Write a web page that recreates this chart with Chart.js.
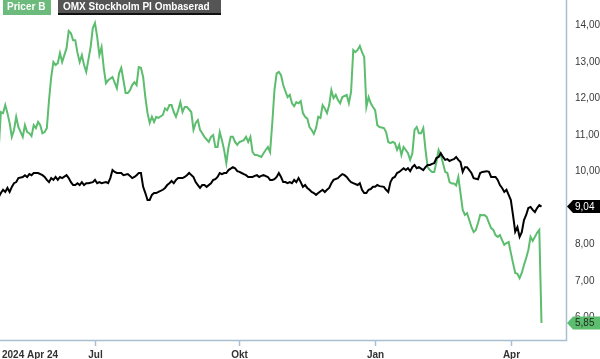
<!DOCTYPE html>
<html>
<head>
<meta charset="utf-8">
<script src="https://cdn.jsdelivr.net/npm/chart.js@4/dist/chart.umd.min.js"></script>
<style>
  html, body { margin: 0; padding: 0; background: #fff; }
  canvas { display: block; }
</style>
</head>
<body>
<canvas id="chart" width="600" height="359"></canvas>
<script>
// trading-day index (0 = 2024-04-24)
const pricerDays = [0,1,2,3,4,5,6,7,8,9,11,12,13,14,15,16,17,18,19,20,21,22,23,24,25,26,27,28,29,30,31,32,33,34,35,36,37,38,39,40,42,43,44,45,46,47,48,49,50,52,54,55,56,57,58,59,60,61,62,63,64,65,66,67,68,69,70,71,72,73,75,76,77,78,79,80,81,82,83,84,85,86,87,88,89,90,91,92,93,94,96,97,98,99,100,101,102,103,104,105,106,107,108,109,110,112,113,114,115,116,117,118,120,121,122,123,124,125,126,127,128,129,130,131,132,133,134,135,136,137,138,139,140,141,142,143,144,145,146,147,148,149,150,151,152,153,154,155,156,157,158,159,160,161,162,163,164,165,166,167,168,169,170,171,172,173,174,176,177,178,179,180,181,182,183,184,185,186,187,188,189,190,191,192,193,194,195,196,197,198,199,200,201,202,203,204,205,206,207,208,209,210,211,212,213,214,215,216,217,218,219,220,221,222,223,224,225,226,227,228,229,230,231,232,233,234,235,236,237,238,239,240,241,242,243,244,246,247,248];
const pricerValues = [10.6,11.63,11.6,11.82,11.6,11.33,10.95,11.14,11.5,11.22,10.95,11.27,11.08,11.05,10.97,11.27,11.19,11.36,11.27,11.05,11.08,11.19,11.96,12.59,13.0,12.92,12.97,13.25,13.0,13.19,13.38,13.85,13.79,13.6,13.6,13.25,13.0,13.19,12.92,12.73,13.41,13.93,14.07,13.69,13.19,13.41,12.84,12.42,12.5,12.59,12.28,12.69,12.84,12.5,12.15,12.15,12.23,12.37,12.45,12.37,12.86,12.84,12.59,12.04,11.6,11.33,11.5,11.36,11.5,11.47,11.55,11.73,11.68,11.82,11.82,11.63,11.5,11.68,11.9,11.63,11.77,11.77,11.7,11.63,11.14,11.33,11.41,11.14,11.05,10.95,10.81,10.95,11.0,10.67,10.67,11.08,10.86,10.59,10.23,10.67,10.95,10.95,10.81,10.73,10.81,10.86,10.95,10.81,10.95,10.53,10.45,10.45,10.4,10.5,10.59,10.67,10.53,11.33,12.23,12.69,12.73,12.64,12.37,12.2,12.04,12.1,11.87,11.79,11.9,11.87,11.93,11.6,11.5,11.45,11.22,11.14,11.03,11.19,11.5,11.47,11.82,11.73,11.6,11.82,12.23,12.01,12.1,11.96,11.87,12.04,12.07,12.1,11.87,12.18,13.33,13.27,13.33,13.44,13.27,13.14,11.77,12.04,11.87,11.77,11.68,11.27,11.22,11.19,11.08,10.81,10.78,10.81,10.78,10.59,10.73,10.45,10.67,10.59,10.5,10.32,10.5,11.14,11.22,11.05,11.05,11.19,10.6,10.12,10.04,9.99,9.99,10.26,10.59,10.45,10.23,9.99,9.96,9.71,9.67,9.67,9.62,9.85,9.41,8.95,8.81,8.86,8.67,8.48,8.34,8.4,8.59,8.81,8.8,8.81,8.75,8.59,8.45,8.4,8.26,8.21,8.26,8.12,7.99,8.04,8.07,7.77,7.49,7.22,7.2,7.08,7.22,7.44,7.63,7.85,8.21,8.1,8.32,8.4,5.85];

const omxDays = [0,1,2,3,4,5,6,7,8,9,11,12,13,14,15,16,17,18,20,21,22,23,24,25,26,27,28,29,31,32,33,34,35,36,37,38,39,40,41,43,44,45,46,47,49,50,51,52,53,54,55,56,57,59,60,61,62,63,64,65,66,67,68,69,70,71,72,73,75,76,77,78,79,80,81,82,84,85,86,87,89,90,91,92,93,94,95,97,98,99,100,101,102,103,104,105,107,108,109,110,111,112,113,114,116,117,118,119,120,121,123,124,125,126,127,128,129,130,131,132,133,134,135,136,137,138,139,140,141,142,143,144,145,146,148,149,150,151,152,153,155,156,157,158,159,160,161,162,164,165,166,167,168,169,170,171,172,173,174,176,177,178,179,180,181,182,183,185,186,187,188,189,190,191,192,194,195,196,197,198,199,200,201,202,203,204,205,206,207,208,209,210,211,212,213,214,215,216,217,219,220,221,223,224,225,227,228,229,230,231,232,233,234,235,236,237,238,239,240,241,242,243,244,245,246,247,248];
const omxValues = [9.3,9.41,9.5,9.44,9.55,9.44,9.58,9.68,9.71,9.82,9.85,9.9,9.85,9.93,9.9,9.96,9.96,9.96,9.9,9.85,9.77,9.71,9.82,9.77,9.85,9.77,9.85,9.82,9.9,9.82,9.71,9.63,9.63,9.68,9.63,9.71,9.63,9.68,9.68,9.71,9.77,9.68,9.71,9.68,9.71,9.68,9.82,10.04,9.99,9.96,9.96,9.96,9.9,9.93,9.88,9.82,9.85,9.9,9.96,9.96,9.58,9.41,9.22,9.22,9.36,9.41,9.41,9.44,9.5,9.55,9.63,9.68,9.74,9.68,9.77,9.82,9.82,9.85,9.9,9.96,9.85,9.71,9.63,9.55,9.63,9.63,9.58,9.68,9.77,9.79,9.85,9.96,9.93,9.96,9.96,10.04,10.12,10.09,10.01,9.99,9.96,9.93,9.9,9.85,9.85,9.88,9.9,9.85,9.88,9.9,9.85,9.77,9.77,9.79,9.85,9.96,9.85,9.71,9.71,9.68,9.71,9.68,9.77,9.71,9.82,9.71,9.58,9.63,9.55,9.5,9.44,9.41,9.36,9.41,9.5,9.44,9.5,9.55,9.68,9.77,9.82,9.88,9.93,9.9,9.85,9.77,9.71,9.68,9.63,9.68,9.5,9.41,9.41,9.5,9.52,9.58,9.58,9.63,9.6,9.58,9.5,9.44,9.71,9.82,9.85,9.96,9.99,10.09,10.04,10.09,10.01,10.12,10.18,10.09,10.12,10.04,10.12,10.18,10.18,10.21,10.23,10.37,10.4,10.5,10.4,10.32,10.34,10.29,10.32,10.34,10.4,10.32,10.26,9.99,10.12,10.12,10.04,9.96,9.82,9.79,9.96,9.99,10.01,9.99,9.85,9.85,9.77,9.63,9.55,9.44,9.5,9.36,9.22,8.8,8.35,8.48,8.21,8.34,8.67,8.81,9.0,9.03,8.95,8.89,9.0,9.08,9.04];

const yTicks = [6, 7, 8, 9, 10, 11, 12, 13, 14];
const xTickDays = [0, 44, 110, 172, 234];
const xTickLabels = ["2024 Apr 24", "Jul", "Okt", "Jan", "Apr"];
const seriesNames = ["Pricer B", "OMX Stockholm PI Ombaserad"];

const GREEN = "#5cbd6e";
const AXIS = "#a7bfd0";
const FONT = "'Liberation Sans', Arial, sans-serif";

function fmt(v) { return v.toFixed(2).replace(".", ","); }

function badge(c, y, text, fill, color) {
  c.beginPath();
  c.moveTo(567, y);
  c.lineTo(573, y - 6.5);
  c.lineTo(600, y - 6.5);
  c.lineTo(600, y + 6.5);
  c.lineTo(573, y + 6.5);
  c.closePath();
  c.fillStyle = fill;
  c.fill();
  c.fillStyle = color;
  c.font = "10px " + FONT;
  c.textAlign = "left";
  c.textBaseline = "middle";
  c.fillText(text, 575, y + 0.5);
}

const decorations = {
  id: "decorations",
  afterDraw(chart) {
    const c = chart.ctx;
    const a = chart.chartArea;
    const xs = chart.scales.x, ys = chart.scales.y;
    c.save();

    // axis frame
    c.strokeStyle = AXIS;
    c.lineWidth = 1.5;
    c.beginPath();
    c.moveTo(0, a.bottom + 0.5);
    c.lineTo(a.right + 0.5, a.bottom + 0.5);
    c.lineTo(a.right + 0.5, 0);
    c.stroke();

    // x ticks + labels
    c.font = "bold 10px " + FONT;
    c.fillStyle = "#333";
    c.textBaseline = "alphabetic";
    xTickDays.forEach((d, i) => {
      const x = Math.round(xs.getPixelForValue(d)) + 0.5;
      if (i === 0) {
        c.textAlign = "left";
        c.fillText(xTickLabels[i], 2, 358);
        return;
      }
      c.beginPath();
      c.moveTo(x, a.bottom + 1);
      c.lineTo(x, a.bottom + 6);
      c.stroke();
      c.textAlign = "center";
      c.fillText(xTickLabels[i], x, 358);
    });

    // y labels
    c.font = "10px " + FONT;
    c.fillStyle = "#3a3a3a";
    c.textAlign = "left";
    c.textBaseline = "middle";
    yTicks.forEach(v => c.fillText(fmt(v), 575, ys.getPixelForValue(v)));

    // last value badges
    const lastOmx = omxValues[omxValues.length - 1];
    const lastPricer = pricerValues[pricerValues.length - 1];
    badge(c, ys.getPixelForValue(lastOmx), fmt(lastOmx), "#000", "#fff");
    badge(c, ys.getPixelForValue(lastPricer), fmt(lastPricer), GREEN, "#1e2a20");

    // legend boxes
    c.font = "bold 10px " + FONT;
    c.textBaseline = "middle";
    c.textAlign = "left";
    c.fillStyle = "#6cbb7c";
    c.fillRect(3, 0, 48, 15);
    c.fillStyle = "#fff";
    c.fillText(seriesNames[0], 7, 7.5);
    c.fillStyle = "#555";
    c.fillRect(58, 0, 163, 14);
    c.fillStyle = "#111";
    c.fillRect(58, 13, 163, 2);
    c.fillStyle = "#fff";
    c.fillText(seriesNames[1], 63, 7);

    c.restore();
  }
};

new Chart(document.getElementById("chart"), {
  type: "line",
  data: {
    datasets: [
      {
        label: seriesNames[1],
        data: omxDays.map((d, i) => ({ x: d, y: omxValues[i] })),
        borderColor: "#000",
        borderWidth: 2,
        pointRadius: 0,
        tension: 0
      },
      {
        label: seriesNames[0],
        data: pricerDays.map((d, i) => ({ x: d, y: pricerValues[i] })),
        borderColor: GREEN,
        borderWidth: 2,
        pointRadius: 0,
        tension: 0
      }
    ]
  },
  options: {
    responsive: false,
    animation: false,
    devicePixelRatio: 1,
    layout: { padding: { left: 0, top: 0, right: 34, bottom: 19 } },
    plugins: { legend: { display: false }, tooltip: { enabled: false } },
    scales: {
      x: { type: "linear", min: 0.6, max: 259.2, display: false },
      y: { min: 5.384, max: 14.7, display: false }
    }
  },
  plugins: [decorations]
});
</script>
</body>
</html>
